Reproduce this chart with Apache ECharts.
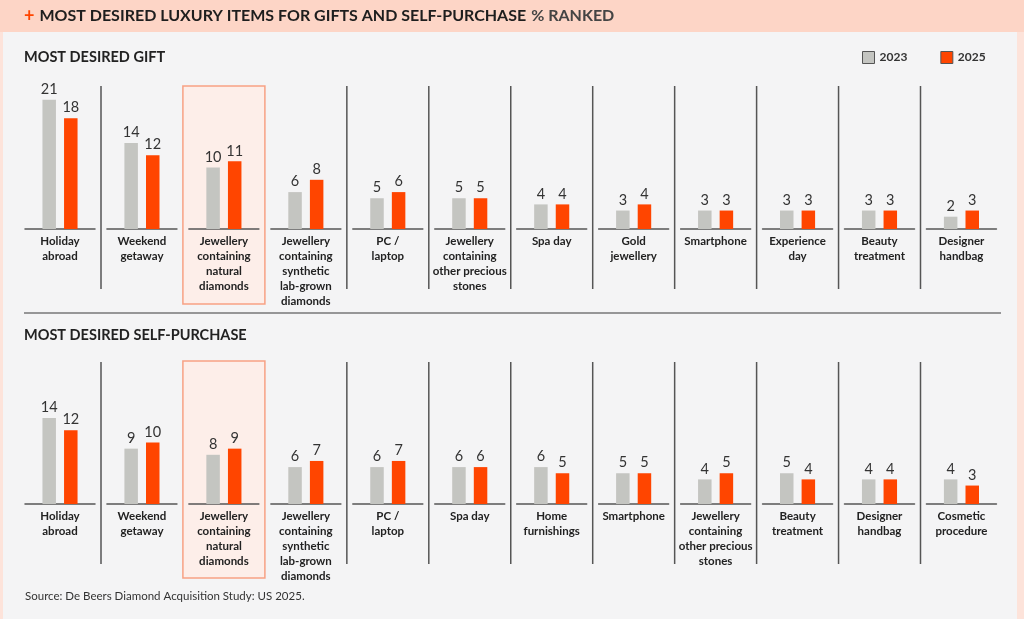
<!DOCTYPE html>
<html>
<head>
<meta charset="utf-8">
<script src="https://cdn.jsdelivr.net/npm/echarts@6/dist/echarts.min.js"></script>
<style>
html,body{margin:0;padding:0;background:#f4f4f5;}
#chart{width:1024px;height:619px;}
</style>
</head>
<body>
<div id="chart"></div>
<script>
// ---- data ----
const giftCategories = ['Holiday\nabroad','Weekend\ngetaway','Jewellery\ncontaining\nnatural\ndiamonds','Jewellery\ncontaining\nsynthetic\nlab-grown\ndiamonds','PC /\nlaptop','Jewellery\ncontaining\nother precious\nstones','Spa day','Gold\njewellery','Smartphone','Experience\nday','Beauty\ntreatment','Designer\nhandbag'];
const gift2023 = [21,14,10,6,5,5,4,3,3,3,3,2];
const gift2025 = [18,12,11,8,6,5,4,4,3,3,3,3];
const selfCategories = ['Holiday\nabroad','Weekend\ngetaway','Jewellery\ncontaining\nnatural\ndiamonds','Jewellery\ncontaining\nsynthetic\nlab-grown\ndiamonds','PC /\nlaptop','Spa day','Home\nfurnishings','Smartphone','Jewellery\ncontaining\nother precious\nstones','Beauty\ntreatment','Designer\nhandbag','Cosmetic\nprocedure'];
const self2023 = [14,9,8,6,6,6,6,5,4,5,4,4];
const self2025 = [12,10,9,7,7,6,5,5,5,4,4,3];
const seriesNames = ['2023','2025'];
const highlightIndex = 2;

// ---- layout ----
const FONT = 'Lato, "Noto Sans", sans-serif';
const GREY = '#c4c5c1', ORANGE = '#ff4500';
const pitch = 81.95, firstCenter = 60, halfBand = 35;
const yMax = 25, pxPerUnit = 6.15, H = yMax * pxPerUnit;
const panels = [
  {cats: giftCategories, a: gift2023, b: gift2025, base: 229, sepTop: 86, sepBot: 289, boxTop: 86, boxBot: 304},
  {cats: selfCategories, a: self2023, b: self2025, base: 504, sepTop: 362, sepBot: 564, boxTop: 361, boxBot: 578}
];

const grids = [], xAxes = [], yAxes = [], series = [], graphics = [];
panels.forEach((p, pi) => {
  const cx = firstCenter + pitch * highlightIndex;
  graphics.push({type:'rect', z:0, shape:{x: cx - 41, y: p.boxTop, width: 82, height: p.boxBot - p.boxTop},
    style:{fill:'#fdeee9', stroke:'#f7a184', lineWidth:1.5}});
  p.cats.forEach((c, i) => {
    const center = firstCenter + pitch * i;
    const gi = grids.length;
    grids.push({left: center - halfBand, width: halfBand * 2, top: p.base - H, height: H});
    xAxes.push({type:'category', gridIndex: gi, data:[c],
      axisLine:{lineStyle:{color:'#555', width:1.5}}, axisTick:{show:false},
      axisLabel:{interval:0, margin:5, fontSize:11.5, lineHeight:15, fontWeight:'bold', color:'#222', fontFamily:FONT}});
    yAxes.push({type:'value', gridIndex: gi, min:0, max:yMax, show:false});
    [p.a, p.b].forEach((arr, si) => {
      series.push({type:'bar', name: seriesNames[si], xAxisIndex: gi, yAxisIndex: gi,
        data:[arr[i]], barWidth:13.5, barGap:'60%', z:3,
        itemStyle:{color: si === 0 ? GREY : ORANGE},
        label:{show:true, position:'top', distance:3, fontSize:14.5, color:'#333', fontFamily:FONT},
        emphasis:{disabled:true}, animation:false});
    });
    if (i < p.cats.length - 1 && i !== highlightIndex && i + 1 !== highlightIndex) {
      graphics.push({type:'line', z:1, shape:{x1: center + 41, y1: p.sepTop, x2: center + 41, y2: p.sepBot},
        style:{stroke:'#555', lineWidth:1.5}});
    }
  });
});

// frame, title bar, subtitles, divider, source
graphics.push({type:'rect', z:0, shape:{x:0, y:0, width:3, height:619}, style:{fill:'#fde3da'}});
graphics.push({type:'rect', z:0, shape:{x:1017, y:0, width:7, height:619}, style:{fill:'#fde3da'}});
graphics.push({type:'rect', z:0, shape:{x:0, y:0, width:1024, height:32}, style:{fill:'#fdd5c6'}});
graphics.push({type:'line', z:1, shape:{x1:24, y1:313, x2:1001, y2:313}, style:{stroke:'#777', lineWidth:1.5}});
graphics.push({type:'text', z:5, left:24, top:50, style:{text:'MOST DESIRED GIFT', font:'bold 14.5px ' + FONT, fill:'#222'}});
graphics.push({type:'text', z:5, left:24, top:328, style:{text:'MOST DESIRED SELF-PURCHASE', font:'bold 14.5px ' + FONT, fill:'#222'}});
graphics.push({type:'text', z:5, left:25, top:590, style:{text:'Source: De Beers Diamond Acquisition Study: US 2025.', font:'11.5px ' + FONT, fill:'#333'}});

const chart = echarts.init(document.getElementById('chart'), null, {renderer:'canvas'});
chart.setOption({
  backgroundColor:'#f4f4f5',
  animation:false,
  title:{left:24, top:7, padding:0,
    text:'{p|+} {b|MOST DESIRED LUXURY ITEMS FOR GIFTS AND SELF-PURCHASE} {n|% RANKED}',
    textStyle:{rich:{
      p:{fontSize:18, color:'#ff4500', fontFamily:FONT},
      b:{fontSize:16, fontWeight:'bold', color:'#1e1e1e', fontFamily:FONT},
      n:{fontSize:16, color:'#444', fontFamily:FONT}}}},
  legend:{left:862, top:51, padding:0, icon:'rect', itemWidth:12, itemHeight:12, itemGap:33, selectedMode:false,
    textStyle:{fontSize:12, fontWeight:'bold', color:'#333', fontFamily:FONT},
    data:[{name:'2023', itemStyle:{color:GREY, borderColor:'#555', borderWidth:1}},
          {name:'2025', itemStyle:{color:ORANGE, borderColor:'#555', borderWidth:1}}]},
  grid:grids, xAxis:xAxes, yAxis:yAxes, series:series, graphic:graphics
});
</script>
</body>
</html>
